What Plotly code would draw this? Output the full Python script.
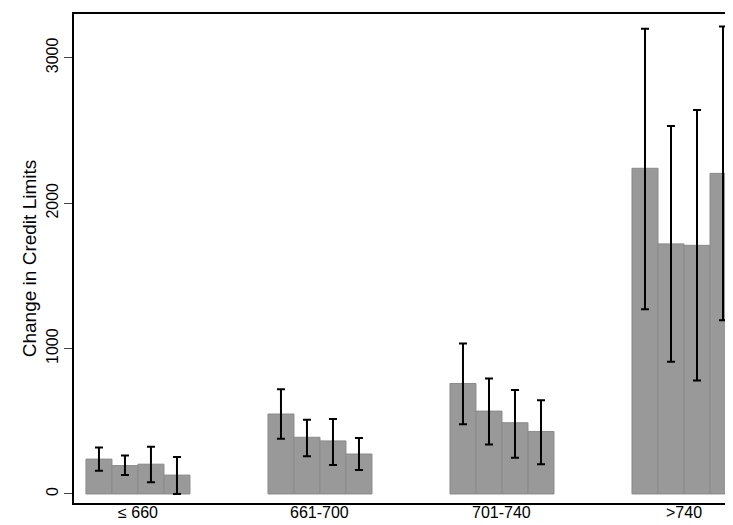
import plotly.graph_objects as go

groups = ["≤ 660", "661-700", "701-740", ">740"]
means = [
    [240, 195, 205, 130],
    [550, 390, 365, 275],
    [760, 570, 490, 430],
    [2240, 1720, 1710, 2205],
]
lows = [
    [160, 130, 80, 0],
    [380, 260, 200, 165],
    [480, 340, 250, 205],
    [1270, 910, 780, 1195],
]
highs = [
    [320, 265, 325, 255],
    [720, 510, 515, 385],
    [1035, 795, 715, 645],
    [3200, 2530, 2640, 3215],
]

STRIDE = 7
xs, ys, up, dn = [], [], [], []
for g in range(len(groups)):
    for i in range(4):
        xs.append(g * STRIDE + i)
        ys.append(means[g][i])
        up.append(highs[g][i] - means[g][i])
        dn.append(means[g][i] - lows[g][i])

fig = go.Figure(go.Bar(
    x=xs, y=ys, width=1,
    marker=dict(color="#999999", line=dict(color="#8a8a8a", width=1)),
    error_y=dict(type="data", symmetric=False, array=up, arrayminus=dn,
                 color="black", thickness=2, width=4),
))

# group labels just under the frame
for g, name in enumerate(groups):
    fig.add_annotation(x=g * STRIDE + 1.5, xref="x", y=0, yref="paper",
                       yanchor="top", yshift=0, borderpad=0, text=name,
                       showarrow=False, font=dict(size=16))

fig.update_layout(
    width=733, height=525,
    margin=dict(l=66, r=3, t=6, b=30),
    plot_bgcolor="white", paper_bgcolor="white",
    font=dict(family="Liberation Sans", size=16, color="black"),
    showlegend=False,
)
fig.update_xaxes(
    range=[-0.96, 3 * STRIDE + 3.5], showticklabels=False,
    ticks="", showgrid=False, zeroline=False,
    showline=True, linecolor="black", linewidth=1.5, mirror=True,
)
fig.update_yaxes(
    range=[-62, 3301], tickvals=[0, 1000, 2000, 3000], tickangle=-90,
    ticks="outside", ticklen=8, showgrid=False, zeroline=False,
    showline=True, linecolor="black", linewidth=1.5, mirror=True,
    title=dict(text="Change in Credit Limits", standoff=2),
)

fig.write_html("out.html")
